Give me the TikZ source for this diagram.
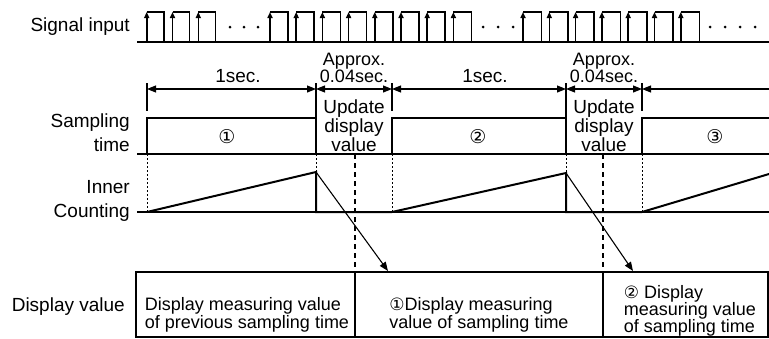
\documentclass[tikz,border=0pt]{standalone}
\usepackage{fontspec}
\setmainfont{Liberation Sans}
\newfontfamily\circfont{DejaVu Sans}
\usetikzlibrary{arrows.meta}
\begin{document}
\begin{tikzpicture}[x=1pt,y=-1pt,
  sig/.style={line width=1.6pt},
  baseln/.style={line width=1.3pt},
  pulse/.style={line width=2pt, line join=miter},
  tick/.style={line width=1.1pt},
  dim/.style={line width=1.1pt},
  dotln/.style={line width=1pt, dash pattern=on 2pt off 2pt},
  dashln/.style={line width=1.1pt, dash pattern=on 5pt off 4pt},
  boxln/.style={line width=1.6pt},
  tipS/.tip={Triangle[length=6pt,width=5pt]},
  tipD/.tip={Triangle[length=9pt,width=7pt]},
  lbl/.style={inner sep=0pt, font=\fontsize{19}{19}\selectfont},
  cell/.style={inner sep=0pt, font=\fontsize{18}{18}\selectfont},
  ls17/.style={font=\fontsize{18}{17}\selectfont},
  ls19/.style={font=\fontsize{19}{19}\selectfont},
  ls24/.style={font=\fontsize{19}{24}\selectfont},
  circ/.style={inner sep=0pt, font=\circfont\fontsize{19}{19}\selectfont}
]
\lineskiplimit=-30pt\relax
\useasboundingbox (0,0) rectangle (769,338);

% ---------- Signal input ----------
\node[lbl, anchor=base east] (lsig) at (130,31) {Signal input};
\draw[sig] (137,42) -- (769,42);
\foreach \r/\w in {146.7/17,172.5/17,198.3/17,
  270/18,296.2/18,322.4/18,348.6/18,374.8/18,401/18,427.2/18,453.4/18,
  523/18.5,549.3/18.5,575.6/18.5,601.9/18.5,628.2/18.5,654.5/18.5,680.8/18.5}{
  \draw[sig,-tipS] (\r,42) -- (\r,12);
  \draw[sig] (\r,12) -- ++(\w,0) -- ++(0,30);
}
\foreach \d in {230,244,258,483,498,513,710,725,740,755}{
  \fill (\d,27) circle (1.5);
}

% ---------- dimension line ----------
\coordinate (t0) at (147,89);
\coordinate (t1) at (316,89);
\coordinate (t2) at (392,89);
\coordinate (t3) at (566,89);
\coordinate (t4) at (642,89);
\coordinate (t5) at (769,89);
\draw[tick] (147,83) -- (147,111);
\draw[tick] (316,83) -- (316,118);
\draw[tick] (392,83) -- (392,111);
\draw[tick] (566,83) -- (566,118);
\draw[tick] (642,83) -- (642,111);
\draw[dim,tipD-tipD] (t0) -- (t1);
\draw[dim,tipD-tipD] (t1) -- (t2);
\draw[dim,tipD-tipD] (t2) -- (t3);
\draw[dim,tipD-tipD] (t3) -- (t4);
\draw[dim,tipD-] (t4) -- (t5);
\node[lbl, anchor=base] (s1) at (238,82) {1sec.};
\node[lbl, anchor=base] (s2) at (485,82) {1sec.};
\node[cell, anchor=base] (a1) at (354,65) {Approx.};
\node[cell, anchor=base] (b1) at (354,82.5) {0.04sec.};
\node[cell, anchor=base] (a2) at (604,65) {Approx.};
\node[cell, anchor=base] (b2) at (604,82.5) {0.04sec.};

% ---------- Sampling time ----------
\node[lbl, ls24, anchor=north east, align=right] (lsamp) at (130,113.5) {Sampling\\time};
\draw[baseln] (137,154) -- (769,154);
\draw[pulse] (147,154) -- (147,118) -- (316,118) -- (316,154);
\draw[pulse] (392,154) -- (392,118) -- (566,118) -- (566,154);
\draw[pulse] (642,154) -- (642,118) -- (769,118);
\node[circ] (c1) at (227,137) {①};
\node[circ] (c2) at (478,137) {②};
\node[circ] (c3) at (715,137) {③};
\node[lbl, ls19, anchor=north, align=center] (u1) at (354,99.5) {Update\\display\\value};
\node[lbl, ls19, anchor=north, align=center] (u2) at (604,99.5) {Update\\display\\value};

% ---------- dotted / dashed guides ----------
\draw[dotln] (147,154) -- (147,212);
\draw[dotln] (316,154) -- (316,172);
\draw[dotln] (392,154) -- (392,212);
\draw[dotln] (566,154) -- (566,173);
\draw[dotln] (642,154) -- (642,212);
\draw[dashln] (355,154) -- (355,272);
\draw[dashln] (603,154) -- (603,272);

% ---------- Inner counting ----------
\node[lbl, ls24, anchor=north east, align=right] (linner) at (130,180.5) {Inner\\Counting};
\draw[baseln] (137,212) -- (769,212);
\coordinate (p1) at (316,172);
\coordinate (p2) at (566,173);
\draw[pulse] (147,212) -- (p1) -- (316,212) -- (392,212) -- (p2) -- (566,212) -- (642,212) -- (769,174);

% ---------- Display value ----------
\node[lbl, anchor=base east] (ldisp) at (125,311) {Display value};
\draw[boxln] (136,272) rectangle (768,337);
\draw[boxln] (355,272) -- (355,337);
\draw[boxln] (603,272) -- (603,337);
\coordinate (e1) at (388,271);
\coordinate (e2) at (633,271);
\draw[line width=1.1pt,-tipD] (p1) -- (e1);
\draw[line width=1.1pt,-tipD] (p2) -- (e2);
\node[cell, anchor=north, align=left] (d1) at (247,297) {Display measuring value\\of previous sampling time};
\node[cell, anchor=north, align=left] (d2) at (479,297) {{\circfont\fontsize{17}{17}\selectfont ①}Display measuring\\value of sampling time};
\node[cell, ls17, anchor=north, align=left] (d3) at (690,285) {{\circfont\fontsize{17}{17}\selectfont ②} Display\\measuring value\\of sampling time};
\end{tikzpicture}
\end{document}
